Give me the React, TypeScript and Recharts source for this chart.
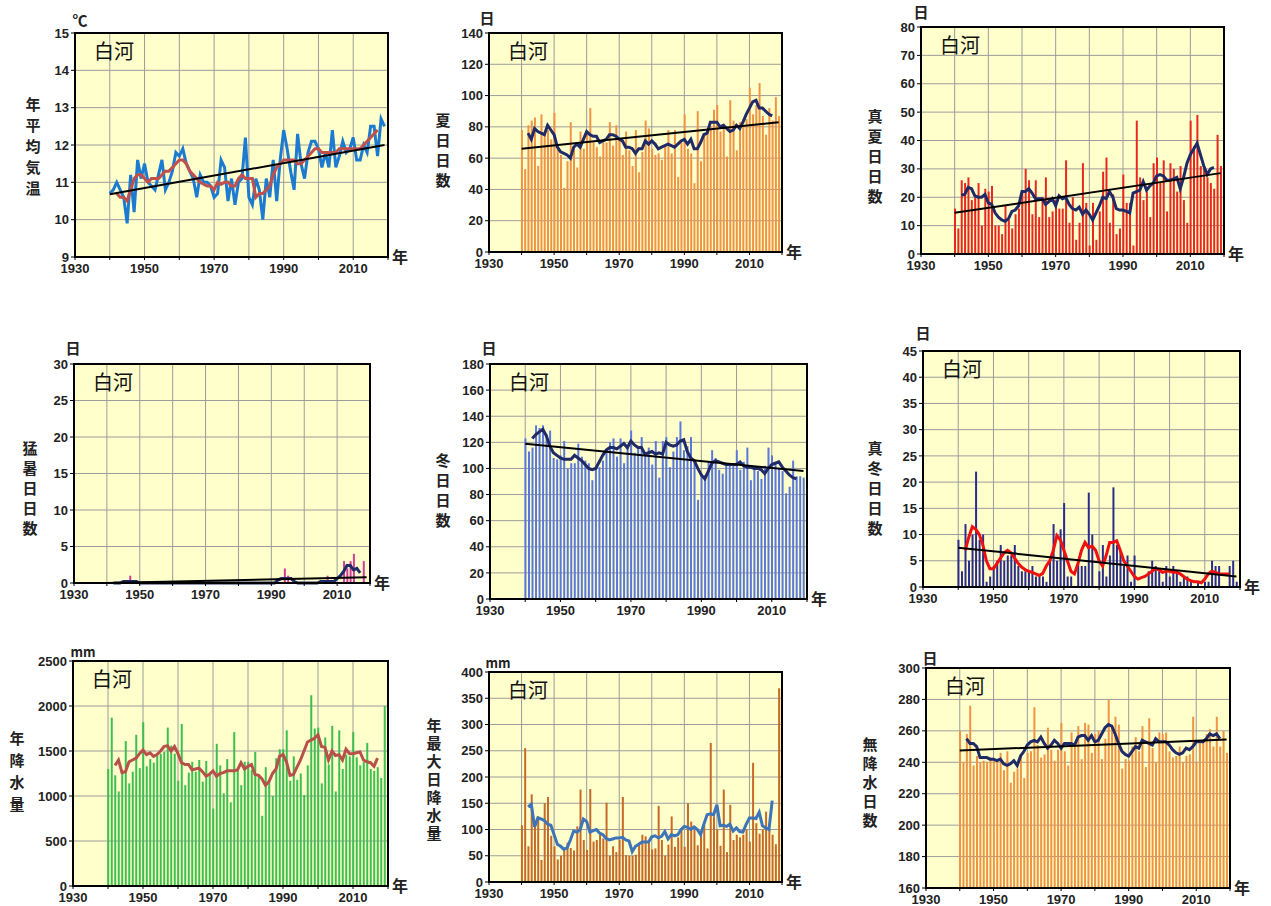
import React from "react";
import { ComposedChart, Bar, Line, XAxis, YAxis, CartesianGrid } from "recharts";

// categories
const years = Array.from({ length: 80 }, (_, i) => 1940 + i); // 1940..2019
const maStart = 1942; // 5-year running means run 1942..2017
const xTicks = [1930, 1940, 1950, 1960, 1970, 1980, 1990, 2000, 2010, 2020];
const xLabels = [1930, 1950, 1970, 1990, 2010];

// 年平均気温 (℃)
const tempAnnual = [
  10.7, 10.8, 11.0, 10.8, 10.6, 9.9, 11.2, 10.2, 11.6, 11.1,
  11.5, 11.0, 10.9, 10.8, 11.2, 11.6, 10.8, 11.0, 11.3, 11.8,
  11.7, 11.9, 11.5, 11.3, 11.1, 10.6, 11.2, 11.0, 11.0, 10.9,
  10.6, 10.7, 11.6, 11.4, 10.5, 11.1, 10.4, 11.0, 11.1, 12.2,
  10.6, 10.4, 11.1, 10.8, 10.0, 11.1, 10.6, 11.6, 10.5, 11.6,
  12.4, 11.9, 11.3, 10.8, 12.3, 11.5, 11.1, 11.8, 12.1, 12.1,
  11.9, 11.4, 11.8, 11.4, 12.4, 11.4, 11.7, 12.1, 11.8, 11.9,
  12.2, 11.6, 11.6, 12.0, 11.8, 12.5, 12.5, 11.7, 12.7, 12.5,
];
const tempMA = [
  10.7, 10.6, 10.6, 10.5, 10.8, 11.1, 11.2, 11.2, 11.1, 11.0,
  11.1, 11.1, 11.1, 11.2, 11.3, 11.3, 11.4, 11.5, 11.6, 11.6,
  11.5, 11.3, 11.2, 11.1, 11.0, 10.95, 10.9, 10.9, 10.8, 11.0,
  10.95, 11.0, 11.0, 10.9, 10.9, 11.1, 11.2, 11.1, 11.1, 11.1,
  10.6, 10.7, 10.7, 10.8, 10.9, 11.2, 11.4, 11.5, 11.6, 11.6,
  11.6, 11.6, 11.5, 11.5, 11.6, 11.7, 11.8, 11.9, 11.9, 11.8,
  11.8, 11.8, 11.8, 11.8, 11.9, 11.9, 11.9, 11.9, 11.9, 11.9,
  11.9, 12.0, 12.1, 12.2, 12.3, 12.4,
];
const tempTrend = [10.68, 12.0];

// 夏日日数
const summerDays = [
  78, 53, 81, 84, 86, 55, 88, 76, 78, 72,
  89, 66, 62, 41, 58, 83, 66, 54, 77, 66,
  76, 92, 70, 67, 61, 70, 70, 83, 68, 81,
  72, 62, 77, 65, 55, 78, 51, 64, 84, 79,
  66, 62, 63, 59, 68, 78, 63, 78, 48, 70,
  88, 66, 63, 44, 90, 58, 76, 78, 80, 91,
  94, 77, 82, 61, 97, 84, 65, 83, 80, 85,
  105, 88, 94, 108, 87, 75, 92, 84, 99, 87,
];
const summerMA = [
  76, 72, 79, 77, 76, 75, 81, 78, 75, 67,
  64, 63, 62, 60, 67, 69, 67, 72, 77, 75,
  74, 74, 70, 71, 72, 75, 75, 74, 72, 71,
  67, 67, 66, 63, 66, 66, 71, 69, 71, 69,
  66, 67, 68, 69, 68, 67, 69, 71, 72, 69,
  72, 66, 66, 70, 75, 76, 83, 83, 83, 80,
  81, 79, 77, 78, 81, 79, 83, 88, 92, 96,
  97, 92, 92, 90, 88, 87,
];
const summerTrend = [66, 83];

// 真夏日日数
const hotDays = [
  16, 9, 26, 25, 27, 19, 20, 25, 10, 23,
  22, 24, 10, 10, 7, 17, 12, 9, 14, 16,
  22, 30, 26, 14, 26, 13, 20, 27, 13, 15,
  19, 16, 16, 33, 11, 20, 5, 11, 32, 18,
  3, 18, 5, 15, 29, 34, 11, 21, 7, 9,
  28, 18, 18, 3, 47, 27, 19, 22, 13, 32,
  34, 25, 33, 15, 32, 30, 22, 31, 19, 11,
  47, 38, 49, 31, 30, 27, 25, 23, 42, 31,
];
const hotMA = [
  20.8, 21, 23.5, 23, 20.5, 20, 20, 21, 18, 17.5,
  14.5, 13, 12, 11.5, 12.5, 15, 15.5, 17, 22, 22,
  23, 21.5, 19.5, 19.5, 19.5, 17.5, 18.5, 19.5, 17, 20.5,
  19.5, 20, 17.5, 16, 15.5, 16.5, 14, 15.5, 14, 12,
  14.5, 17, 20, 19.5, 22, 20, 16, 15.5, 15.5, 15,
  14.5, 21.5, 22, 22.5, 25.5, 22.5, 24, 25, 27.5, 28,
  27.5, 26, 26, 26.5, 27, 23, 27, 32, 35, 37,
  39, 35, 31, 28, 30, 30.5,
];
const hotTrend = [14.5, 28.5];

// 猛暑日日数
const extremeDays = [
  0, 0, 0, 0, 0, 0, 0, 1, 0, 0,
  0, 0, 0, 0, 0, 0, 0, 0, 0, 0,
  0, 0, 0, 0, 0, 0, 0, 0, 0, 0,
  0, 0, 0, 0, 0, 0, 0, 0, 0, 0,
  0, 0, 0, 0, 0, 0, 0, 0, 0, 0,
  0, 0, 0, 0, 2, 1, 0, 0, 0, 0,
  0, 0, 0, 0, 0, 0, 0, 1, 0, 0,
  0, 0, 3, 2, 3, 4, 0, 0, 3, 0,
];
const extremeMA = [
  0, 0, 0, 0.2, 0.2, 0.2, 0.2, 0.2, 0, 0,
  0, 0, 0, 0, 0, 0, 0, 0, 0, 0,
  0, 0, 0, 0, 0, 0, 0, 0, 0, 0,
  0, 0, 0, 0, 0, 0, 0, 0, 0, 0,
  0, 0, 0, 0, 0, 0, 0, 0, 0, 0,
  0.4, 0.6, 0.6, 0.6, 0.6, 0.2, 0, 0, 0, 0,
  0, 0, 0, 0.2, 0.2, 0.2, 0.2, 0.2, 0.6, 1.0,
  1.6, 2.4, 2.4, 1.8, 2.0, 1.4,
];
const extremeTrend = [0, 0.8];

// 冬日日数
const frostDays = [
  123, 113, 116, 133, 131, 133, 126, 129, 108, 107,
  110, 121, 100, 104, 104, 119, 109, 106, 104, 91,
  100, 101, 106, 113, 120, 123, 109, 123, 104, 116,
  129, 112, 115, 124, 112, 116, 103, 121, 93, 121,
  124, 101, 113, 124, 136, 114, 117, 124, 106, 76,
  96, 95, 105, 114, 108, 99, 96, 104, 103, 104,
  114, 99, 105, 116, 91, 100, 98, 92, 102, 116,
  110, 104, 100, 98, 81, 86, 106, 94, 94, 93,
];
const frostMA = [
  123, 126, 128, 130, 125, 117, 112, 110, 108, 107,
  107, 107, 110, 108, 106, 103, 100, 99, 100, 105,
  110, 114, 116, 116, 115, 117, 119, 116, 121, 118,
  116, 116, 111, 112, 113, 111, 112, 111, 120, 118,
  117, 118, 121, 122, 113, 108, 106, 100, 95, 92,
  98, 104, 106, 105, 104, 103, 103, 103, 103, 105,
  102, 101, 101, 100, 100, 99, 96, 100, 103, 104,
  105, 101, 98, 95, 93, 92,
];
const frostTrend = [119, 98];

// 真冬日日数
const iceDays = [
  9, 3, 12, 5, 10, 22, 9, 10, 1, 2,
  4, 5, 8, 5, 6, 6, 8, 4, 3, 3,
  3, 4, 2, 2, 2, 1, 5, 12, 5, 11,
  16, 2, 2, 0, 5, 4, 4, 18, 10, 0,
  3, 8, 2, 6, 19, 8, 7, 4, 6, 1,
  6, 0, 0, 0, 3, 5, 4, 3, 1, 4,
  2, 4, 3, 1, 2, 2, 1, 0, 1, 0,
  1, 1, 5, 4, 4, 0, 0, 4, 5, 1,
];
const iceMA = [
  7, 9.5, 11.5, 11, 10, 8, 5, 3.5, 3.5, 4.5,
  5.5, 6.5, 7, 6.5, 5.5, 4.5, 3.8, 3.3, 3, 2.8,
  2.5, 2.2, 2.6, 4, 5, 7, 9.8, 9, 7, 5,
  3, 2.5, 4.5, 7, 8.5, 7.5, 7.8, 7, 5, 4,
  6, 8.5, 8.5, 8.8, 7, 5, 4, 3, 2, 1.5,
  1.8, 2, 2.5, 3, 3.5, 3.3, 2.8, 3, 3, 2.8,
  2.8, 2.5, 2, 1.5, 1.2, 1, 1, 0.8, 1.5, 2.5,
  3, 2.8, 2.5, 2.5, 2.5, 2.5,
];
const iceTrend = [7.5, 2];

// 年降水量 (mm)
const precip = [
  1300, 1870, 1230, 1050, 1290, 1610, 1140, 1270, 1680, 1310,
  1820, 1330, 1410, 1370, 1450, 1470, 1490, 1760, 1560, 1470,
  1170, 1800, 1120, 1260, 1380, 1270, 1400, 1160, 1390, 1260,
  860, 1580, 1340, 1030, 1410, 930, 1710, 1290, 1120, 1380,
  1380, 1290, 1490, 1240, 780, 1320, 1150, 1000, 1420, 1520,
  1520, 1730, 1170, 1440, 1180, 1250, 1010, 1340, 2120, 1750,
  1760, 1140, 1650, 1350, 1780, 1050, 1730, 1300, 1460, 1440,
  1710, 1430, 1340, 1380, 1590, 1300, 1280, 1320, 1200, 2000,
];
const precipMA = [
  1340, 1400, 1260, 1270, 1380, 1400, 1420, 1470, 1510, 1460,
  1480, 1440, 1460, 1500, 1550, 1560, 1500, 1550, 1470, 1370,
  1350, 1350, 1290, 1300, 1310, 1270, 1220, 1240, 1280, 1220,
  1250, 1260, 1280, 1280, 1280, 1290, 1370, 1300, 1330, 1350,
  1240, 1230, 1190, 1120, 1160, 1250, 1300, 1440, 1460, 1380,
  1230, 1240, 1320, 1400, 1500, 1600, 1620, 1640, 1680, 1550,
  1540, 1400, 1500, 1450, 1460, 1400, 1520, 1470, 1470, 1480,
  1490, 1400, 1380, 1370, 1330, 1420,
];

// 年最大日降水量 (mm)
const maxDaily = [
  108, 255, 68, 167, 110, 125, 42, 150, 162, 88,
  68, 43, 50, 60, 75, 65, 60, 106, 176, 80,
  61, 177, 77, 80, 90, 83, 151, 50, 68, 57,
  80, 162, 51, 50, 50, 52, 75, 90, 87, 75,
  62, 64, 145, 80, 50, 71, 125, 67, 85, 100,
  67, 150, 115, 100, 70, 90, 108, 64, 265, 125,
  100, 69, 176, 57, 147, 80, 90, 85, 90, 100,
  77, 227, 112, 92, 100, 134, 100, 90, 72, 369,
];
const maxDailyMA = [
  143, 148, 105, 122, 120, 117, 110, 108, 90, 72,
  68, 62, 65, 80, 97, 95, 100, 120, 115, 95,
  98, 100, 93, 90, 83, 80, 82, 84, 84, 85,
  80, 78, 58, 68, 72, 76, 76, 76, 86, 88,
  84, 87, 96, 82, 90, 88, 90, 100, 106, 104,
  100, 105, 100, 90, 110, 128, 130, 128, 147, 107,
  108, 106, 110, 97, 103, 96, 95, 110, 122, 122,
  121, 133, 107, 103, 100, 155,
];

// 無降水日数
const dryDays = [
  260, 240, 258, 276, 238, 244, 240, 241, 240, 243,
  241, 240, 246, 235, 247, 227, 234, 236, 245, 230,
  246, 247, 275, 251, 243, 245, 262, 248, 241, 248,
  265, 247, 238, 259, 250, 263, 242, 265, 264, 246,
  258, 260, 242, 255, 280, 262, 269, 264, 236, 242,
  241, 250, 256, 247, 263, 237, 268, 249, 240, 259,
  258, 259, 247, 243, 244, 250, 240, 244, 245, 269,
  240, 252, 253, 258, 261, 250, 269, 250, 260, 246,
];
const dryMA = [
  255, 252, 252, 250, 243, 243, 243, 242, 242, 241,
  242, 239, 238, 239, 241, 238, 244, 247, 251, 253,
  254, 253, 256, 252, 249, 251, 254, 252, 249, 252,
  252, 252, 251, 256, 257, 257, 254, 257, 253, 254,
  258, 262, 264, 263, 258, 252, 247, 245, 244, 247,
  250, 249, 254, 253, 252, 251, 255, 253, 253, 253,
  251, 248, 246, 245, 246, 249, 248, 250, 253, 253,
  253, 255, 258, 257, 258, 255,
];
const dryTrend = [247.5, 254.5];

const NAVY = "#1F2A66";
const YW = 46;
const MT = 8;
const MR = 8;
const XH = 26;
const tickStyle = { fontSize: 13, fontWeight: 700, fill: "#222", fontFamily: "'Liberation Sans', Arial, sans-serif" };

type PanelProps = {
  rect: [number, number, number, number];
  values: number[];
  ma: number[];
  trend?: number[];
  yDomain: [number, number];
  yTicks: number[];
  barColor?: string;
  valueLineColor?: string;
  maColor: string;
  unit: string;
  unitPos: [number, number];
  label: string;
  labelPos: [number, number, number];
};

function Panel(p: PanelProps) {
  const [x, y, w, h] = p.rect;
  const rows = years.map((year, i) => {
    const mi = year - maStart;
    return {
      year,
      v: p.values[i],
      ma: mi >= 0 && mi < p.ma.length ? p.ma[mi] : null,
      tr: p.trend ? (i === 0 ? p.trend[0] : i === years.length - 1 ? p.trend[1] : null) : null,
    };
  });
  const [lx, ly, step] = p.labelPos;
  return (
    <>
      <div style={{ position: "absolute", left: x - YW, top: y - MT }}>
        <ComposedChart
          width={YW + w + MR}
          height={MT + h + XH}
          data={rows}
          margin={{ top: MT, right: MR, bottom: 0, left: 0 }}
        >
          <CartesianGrid fill="#FFFFCC" fillOpacity={1} stroke="#9C9C9C" strokeWidth={1} />
          <XAxis
            dataKey="year"
            type="number"
            domain={[1930, 2020]}
            ticks={xTicks}
            interval={0}
            height={XH}
            axisLine={false}
            tickSize={3}
            tickMargin={4}
            tickLine={{ stroke: "#000" }}
            tick={tickStyle}
            tickFormatter={(v: number) => (xLabels.includes(v) ? String(v) : "")}
          />
          <YAxis
            type="number"
            domain={p.yDomain}
            ticks={p.yTicks}
            interval={0}
            width={YW}
            axisLine={false}
            tickSize={4}
            tickMargin={2}
            tickLine={{ stroke: "#000" }}
            tick={tickStyle}
          />
          {p.barColor && (
            <Bar dataKey="v" fill={p.barColor} barSize={2} isAnimationActive={false} />
          )}
          {p.valueLineColor && (
            <Line
              dataKey="v"
              type="linear"
              stroke={p.valueLineColor}
              strokeWidth={3}
              dot={false}
              isAnimationActive={false}
            />
          )}
          <Line
            dataKey="ma"
            type="linear"
            stroke={p.maColor}
            strokeWidth={3}
            dot={false}
            connectNulls={false}
            isAnimationActive={false}
          />
          {p.trend && (
            <Line
              dataKey="tr"
              type="linear"
              stroke="#000"
              strokeWidth={2}
              dot={false}
              connectNulls
              isAnimationActive={false}
            />
          )}
        </ComposedChart>
      </div>
      <div
        style={{
          position: "absolute",
          left: x - 1,
          top: y - 1,
          width: w + 2,
          height: h + 2,
          border: "2px solid #000",
          boxSizing: "border-box",
          pointerEvents: "none",
        }}
      />
      <div style={{ position: "absolute", left: x + 19, top: y + 3, fontSize: 20, color: "#111" }}>白河</div>
      <div style={{ position: "absolute", left: x + w + 4, top: y + h - 13, fontSize: 16, fontWeight: 700, color: "#222" }}>年</div>
      <div
        style={{
          position: "absolute",
          left: p.unitPos[0] - 20,
          top: p.unitPos[1] - 10,
          width: 40,
          textAlign: "center",
          lineHeight: "20px",
          fontSize: p.unit === "mm" ? 13 : 15,
          fontWeight: 700,
          color: "#222",
        }}
      >
        {p.unit}
      </div>
      {p.label.split("").map((ch, i) => (
        <div
          key={i}
          style={{
            position: "absolute",
            left: lx - 10,
            top: ly + i * step,
            width: 20,
            height: step,
            lineHeight: `${step}px`,
            textAlign: "center",
            fontSize: 15,
            fontWeight: 700,
            color: "#222",
          }}
        >
          {ch}
        </div>
      ))}
    </>
  );
}

export default function App() {
  return (
    <div
      style={{
        position: "absolute",
        left: 0,
        top: 0,
        width: 1271,
        height: 906,
        background: "#fff",
        overflow: "hidden",
        fontFamily: "'Noto Sans CJK JP', sans-serif",
      }}
    >
      <Panel
        rect={[75, 33, 313, 224]}
        values={tempAnnual}
        ma={tempMA}
        trend={tempTrend}
        yDomain={[9, 15]}
        yTicks={[9, 10, 11, 12, 13, 14, 15]}
        valueLineColor="#1C7BD0"
        maColor="#C0504D"
        unit="℃"
        unitPos={[80, 20]}
        label="年平均気温"
        labelPos={[33, 93, 21]}
      />
      <Panel
        rect={[489, 33, 293, 219]}
        values={summerDays}
        ma={summerMA}
        trend={summerTrend}
        yDomain={[0, 140]}
        yTicks={[0, 20, 40, 60, 80, 100, 120, 140]}
        barColor="#EE9444"
        maColor={NAVY}
        unit="日"
        unitPos={[487, 18]}
        label="夏日日数"
        labelPos={[443, 110, 20]}
      />
      <Panel
        rect={[921, 27, 303, 227]}
        values={hotDays}
        ma={hotMA}
        trend={hotTrend}
        yDomain={[0, 80]}
        yTicks={[0, 10, 20, 30, 40, 50, 60, 70, 80]}
        barColor="#E8281E"
        maColor={NAVY}
        unit="日"
        unitPos={[921, 12]}
        label="真夏日日数"
        labelPos={[875, 106, 20]}
      />
      <Panel
        rect={[74, 364, 296, 219]}
        values={extremeDays}
        ma={extremeMA}
        trend={extremeTrend}
        yDomain={[0, 30]}
        yTicks={[0, 5, 10, 15, 20, 25, 30]}
        barColor="#D03C9A"
        maColor={NAVY}
        unit="日"
        unitPos={[73, 348]}
        label="猛暑日日数"
        labelPos={[30, 438, 20]}
      />
      <Panel
        rect={[490, 364, 317, 235]}
        values={frostDays}
        ma={frostMA}
        trend={frostTrend}
        yDomain={[0, 180]}
        yTicks={[0, 20, 40, 60, 80, 100, 120, 140, 160, 180]}
        barColor="#5A78DC"
        maColor={NAVY}
        unit="日"
        unitPos={[489, 348]}
        label="冬日日数"
        labelPos={[443, 450, 20]}
      />
      <Panel
        rect={[923, 351, 317, 236]}
        values={iceDays}
        ma={iceMA}
        trend={iceTrend}
        yDomain={[0, 45]}
        yTicks={[0, 5, 10, 15, 20, 25, 30, 35, 40, 45]}
        barColor="#2B2B8C"
        maColor="#F01010"
        unit="日"
        unitPos={[923, 333]}
        label="真冬日日数"
        labelPos={[875, 438, 20]}
      />
      <Panel
        rect={[73, 661, 315, 225]}
        values={precip}
        ma={precipMA}
        yDomain={[0, 2500]}
        yTicks={[0, 500, 1000, 1500, 2000, 2500]}
        barColor="#3CBF50"
        maColor="#B8504A"
        unit="mm"
        unitPos={[83, 652]}
        label="年降水量"
        labelPos={[17, 727, 22]}
      />
      <Panel
        rect={[489, 672, 293, 210]}
        values={maxDaily}
        ma={maxDailyMA}
        yDomain={[0, 400]}
        yTicks={[0, 50, 100, 150, 200, 250, 300, 350, 400]}
        barColor="#C56A28"
        maColor="#3E74B8"
        unit="mm"
        unitPos={[498, 663]}
        label="年最大日降水量"
        labelPos={[434, 716, 18]}
      />
      <Panel
        rect={[926, 668, 304, 220]}
        values={dryDays}
        ma={dryMA}
        trend={dryTrend}
        yDomain={[160, 300]}
        yTicks={[160, 180, 200, 220, 240, 260, 280, 300]}
        barColor="#EE9444"
        maColor={NAVY}
        unit="日"
        unitPos={[930, 658]}
        label="無降水日数"
        labelPos={[870, 734, 19]}
      />
    </div>
  );
}
